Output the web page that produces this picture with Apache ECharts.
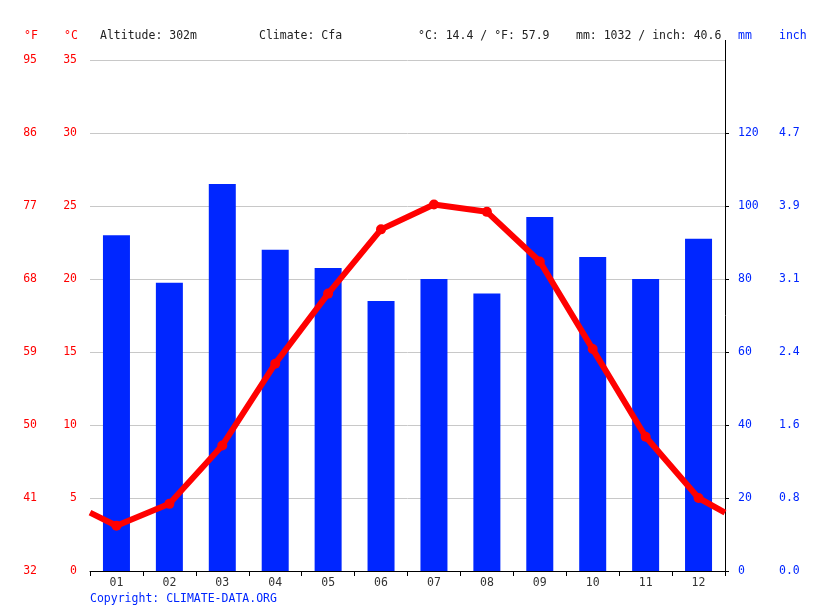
<!DOCTYPE html>
<html>
<head>
<meta charset="utf-8">
<script src="https://cdn.jsdelivr.net/npm/echarts@6/dist/echarts.min.js"></script>
<style>
  html, body { margin: 0; padding: 0; background: #fff; }
  #chart { width: 815px; height: 611px; }
</style>
</head>
<body>
<div id="chart"></div>
<script>
// values
var months = ['01', '02', '03', '04', '05', '06', '07', '08', '09', '10', '11', '12'];
var rainMm = [92, 79, 106, 88, 83, 74, 80, 76, 97, 86, 80, 91];
var tempC = [3.1, 4.6, 8.6, 14.2, 19.0, 23.4, 25.1, 24.6, 21.2, 15.2, 9.2, 5.0];
// where the temperature line meets the left / right plot edge
var edgeTemp = [4.0, 4.0];
var altitude = '302m';
var climate = 'Cfa';

var FONT = 'DejaVu Sans Mono';
var RED = '#ff0000';
var BLUE = '#0026ff';
var gridLeft = 90, gridRight = 90, gridTop = 60, gridBottom = 40;

var myChart = echarts.init(document.getElementById('chart'));

// summary line at top
var sumMm = rainMm.reduce(function (a, b) { return a + b; }, 0);
var avgC = tempC.reduce(function (a, b) { return a + b; }, 0) / tempC.length;
var avgCTxt = avgC.toFixed(1);
var avgFTxt = (Number(avgCTxt) * 1.8 + 32).toFixed(1);
var inchTxt = (sumMm / 25.4).toFixed(1);

// line goes to both plot edges, points sit in the middle of each month
var lineData = [{ value: [0, edgeTemp[0]], symbol: 'none' }];
tempC.forEach(function (t, i) { lineData.push([i + 0.5, t]); });
lineData.push({ value: [months.length, edgeTemp[1]], symbol: 'none' });

var mmTicks = [0, 20, 40, 60, 80, 100, 120];

function headText(x, txt, color) {
    return {
        type: 'text', left: x, top: 30,
        style: { text: txt, fill: color, font: '11.5px "' + FONT + '"' }
    };
}

var option = {
    animation: false,
    grid: { left: gridLeft, right: gridRight, top: gridTop, bottom: gridBottom },
    xAxis: [
        {
            type: 'category',
            data: months,
            boundaryGap: true,
            axisLine: { lineStyle: { color: '#000', width: 1 } },
            axisTick: { show: true, length: 5, lineStyle: { color: '#000' } },
            axisLabel: { color: '#333', fontFamily: FONT, fontSize: 11.5, margin: 6 },
            splitLine: { show: false }
        },
        {
            type: 'value', min: 0, max: months.length, show: false
        }
    ],
    yAxis: [
        {   // °C
            type: 'value', min: 0, max: 35, interval: 5, position: 'left',
            axisLine: { show: false }, axisTick: { show: false },
            axisLabel: { color: RED, fontFamily: FONT, fontSize: 11.5, margin: 13 },
            splitLine: { lineStyle: { color: '#c8c8c8', width: 1 } }
        },
        {   // °F
            type: 'value', min: 0, max: 35, interval: 5, position: 'left', offset: 40,
            axisLine: { show: false }, axisTick: { show: false },
            axisLabel: {
                color: RED, fontFamily: FONT, fontSize: 11.5, margin: 13,
                formatter: function (v) { return Math.round(v * 1.8 + 32); }
            },
            splitLine: { show: false }
        },
        {   // mm
            type: 'value', min: 0, max: 140, interval: 20, position: 'right',
            axisLine: { show: true, lineStyle: { color: '#000', width: 1 } },
            axisTick: { show: true, length: 4, customValues: mmTicks, lineStyle: { color: '#000' } },
            axisLabel: { color: BLUE, fontFamily: FONT, fontSize: 11.5, margin: 13, customValues: mmTicks },
            splitLine: { show: false }
        },
        {   // inch
            type: 'value', min: 0, max: 140, interval: 20, position: 'right', offset: 41,
            axisLine: { show: false }, axisTick: { show: false },
            axisLabel: {
                color: BLUE, fontFamily: FONT, fontSize: 11.5, margin: 13, customValues: mmTicks,
                formatter: function (v) { return (v / 25.4).toFixed(1); }
            },
            splitLine: { show: false }
        }
    ],
    series: [
        {
            name: 'mm',
            type: 'bar',
            xAxisIndex: 0, yAxisIndex: 2,
            data: rainMm,
            barWidth: 27,
            itemStyle: { color: BLUE }
        },
        {
            name: '°C',
            type: 'line',
            xAxisIndex: 1, yAxisIndex: 0,
            data: lineData,
            symbol: 'circle', symbolSize: 10,
            showAllSymbol: true,
            lineStyle: { color: RED, width: 6 },
            itemStyle: { color: RED },
            z: 5
        }
    ],
    graphic: [
        headText(24, '°F', RED),
        headText(64, '°C', RED),
        headText(100, 'Altitude: ' + altitude, '#222'),
        headText(259, 'Climate: ' + climate, '#222'),
        headText(418, '°C: ' + avgCTxt + ' / °F: ' + avgFTxt, '#222'),
        headText(576, 'mm: ' + sumMm + ' / inch: ' + inchTxt, '#222'),
        headText(738, 'mm', BLUE),
        headText(779, 'inch', BLUE),
        {
            // right axis runs a bit above the plot
            type: 'line',
            shape: { x1: 815 - gridRight + 0.5, y1: 40, x2: 815 - gridRight + 0.5, y2: gridTop },
            style: { stroke: '#000', lineWidth: 1 }
        },
        {
            type: 'text', left: 90, top: 593,
            style: { text: 'Copyright: CLIMATE-DATA.ORG', fill: BLUE, font: '11.5px "' + FONT + '"' }
        }
    ]
};

myChart.setOption(option);
</script>
</body>
</html>
